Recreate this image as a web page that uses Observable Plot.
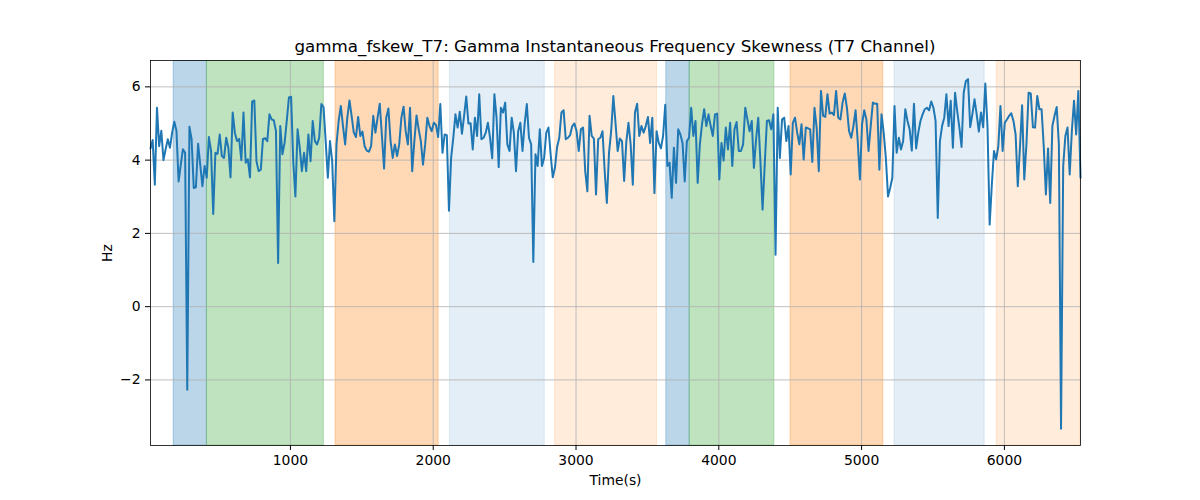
<!DOCTYPE html>
<html>
<head>
<meta charset="utf-8">
<script src="https://cdn.jsdelivr.net/npm/d3@7"></script>
<script src="https://cdn.jsdelivr.net/npm/@observablehq/plot@0.6"></script>
<style>
  body { margin: 0; background: #fff; font-family: "DejaVu Sans", sans-serif; }
  #wrap { width: 1200px; height: 500px; position: relative; }
  #title { position: absolute; left: 150px; width: 930px; top: 36px; text-align: center;
           font-size: 16.7px; line-height: 20px; color: #000; }
  #chart { position: absolute; left: 0; top: 60px; }
</style>
</head>
<body>
<div id="wrap">
  <div id="title">gamma_fskew_T7: Gamma Instantaneous Frequency Skewness (T7 Channel)</div>
  <div id="chart"></div>
</div>
<script>
const titleText = "gamma_fskew_T7: Gamma Instantaneous Frequency Skewness (T7 Channel)";
const xLabel = "Time(s)";
const yLabel = "Hz";
const xTicks = [1000, 2000, 3000, 4000, 5000, 6000];
const yTicks = [-2, 0, 2, 4, 6];
const tStart = 20;
const tEnd = 6533;
const yDomain = [-3.79, 6.72];

const values = [
  4.32,4.55,3.33,5.43,4.38,4.8,4.0,4.3,4.57,4.34,
  4.75,5.05,4.8,3.42,3.88,4.3,4.2,-2.27,4.91,4.57,
  3.24,3.26,4.45,3.88,3.29,3.84,3.52,4.63,4.25,2.53,
  4.2,4.17,4.7,4.11,4.06,4.61,4.34,3.53,5.3,4.75,
  4.52,4.58,4.0,5.3,3.93,4.02,3.53,5.6,5.63,3.97,
  3.7,3.74,4.58,4.6,4.52,5.25,
  5.11,5.09,4.8,1.19,4.93,4.16,4.47,5.07,5.71,5.73,
  3.97,3.01,4.84,4.34,3.7,4.2,3.7,4.7,3.97,5.07,
  4.52,4.43,4.61,5.53,5.45,4.52,3.52,4.52,3.97,2.33,
  4.43,5.07,5.48,4.93,4.43,5.16,5.63,5.2,4.75,4.63,
  5.18,4.66,4.78,4.38,4.26,4.23,4.38,
  5.21,4.75,5.16,5.54,4.66,3.77,5.16,5.41,4.52,4.06,
  4.43,4.11,4.43,5.16,5.46,4.79,4.43,5.43,3.7,4.52,
  5.22,4.84,4.52,3.88,4.43,5.16,4.93,4.79,5.02,4.96,
  4.63,5.53,4.2,4.7,4.68,2.62,4.06,4.61,5.25,4.89,
  5.32,4.72,5.21,5.74,5.0,5.01,4.29,5.16,4.66,5.8,
  4.57,4.61,4.75,5.02,4.61,4.05,5.8,5.16,3.81,5.43,
  5.3,5.57,4.43,4.25,5.16,4.75,3.7,4.79,5.02,4.25,
  5.0,5.53,4.61,4.43,1.22,4.16,3.84,4.84,3.84,4.06,
  4.75,4.89,4.16,3.53,3.79,4.36,4.61,5.3,5.36,4.57,
  4.61,4.68,4.93,5.0,4.79,4.25,4.84,4.89,3.7,3.15,
  5.21,4.66,4.59,3.06,4.57,4.61,4.79,3.7,2.83,4.2,
  4.79,5.75,5.02,4.25,4.59,4.52,3.43,4.5,5.02,
  4.43,3.33,5.3,5.54,4.66,4.93,4.75,4.93,5.18,4.47,
  5.16,3.1,4.79,4.47,4.32,4.66,5.51,3.84,3.93,2.97,
  4.34,3.38,4.84,4.7,4.47,3.42,4.52,4.61,5.43,4.66,
  5.07,3.38,4.43,4.98,5.39,4.93,5.25,4.93,4.66,5.25,
  5.27,3.47,4.47,3.99,4.89,4.29,5.02,3.84,4.84,5.04,
  4.25,4.25,4.43,5.43,5.11,4.79,
  5.07,3.79,4.57,5.16,3.97,2.65,3.88,5.07,5.09,4.84,
  5.25,1.42,5.43,4.06,5.11,5.16,4.52,4.93,3.61,5.02,
  5.16,4.75,4.43,4.98,4.02,4.89,4.87,4.84,3.95,5.43,
  4.89,3.7,5.89,5.21,5.18,5.8,5.27,5.3,5.23,5.89,
  5.16,5.11,5.57,5.82,5.43,4.79,4.61,4.93,5.36,4.52,
  3.47,4.98,5.36,5.11,4.25,
  4.93,5.57,5.54,5.54,3.74,5.25,4.75,4.06,3.01,3.24,
  3.52,5.48,4.2,4.61,4.29,4.52,5.39,5.07,4.84,4.26,
  5.54,4.32,4.75,5.07,5.25,5.39,5.43,5.36,5.6,5.43,
  5.07,2.42,4.52,4.93,5.16,5.8,4.93,5.62,4.34,5.84,
  5.34,4.89,4.36,5.84,6.16,6.21,4.9,5.25,5.66,5.25,
  4.78,5.3,4.9,6.09,
  4.9,2.24,3.33,4.25,4.02,4.38,
  5.48,4.25,5.02,5.11,5.21,5.28,5.07,4.7,3.29,4.34,
  5.5,3.47,4.43,5.84,5.82,4.9,4.89,5.75,5.39,5.39,
  4.38,3.06,4.32,2.83,4.93,5.21,5.45,4.43,-3.33,3.84,
  4.66,4.89,3.61,4.79,5.62,4.7,5.89,3.52
];

const spanStart = [182, 415, 1316, 2117, 2854, 3632, 3796, 4502, 5231, 5946];
const spanEnd   = [415, 1234, 2038, 2781, 3567, 3796, 4389, 5152, 5862, 6533];
const spanColor = ["#1f77b4", "#2ca02c", "#ff7f0e", "#1f77b4", "#ff7f0e",
                   "#1f77b4", "#2ca02c", "#ff7f0e", "#1f77b4", "#ff7f0e"];
const spanAlpha = [0.3, 0.3, 0.3, 0.12, 0.15, 0.3, 0.3, 0.3, 0.12, 0.15];

const stepT = (tEnd - tStart) / (values.length - 1);
const series = values.map((v, i) => ({t: tStart + i * stepT, v}));
const spans = spanStart.map((s, i) => ({x1: s, x2: spanEnd[i], c: spanColor[i], a: spanAlpha[i]}));

const fmt = d => d < 0 ? "\u2212" + Math.abs(d) : String(d);

const chart = Plot.plot({
  width: 1200,
  height: 440,
  marginLeft: 150,
  marginRight: 120,
  marginTop: 0,
  marginBottom: 55,
  style: {fontFamily: "DejaVu Sans, sans-serif", fontSize: "13.9px", color: "#000", background: "#fff"},
  x: {domain: [tStart, tEnd]},
  y: {domain: yDomain},
  color: {type: "identity"},
  opacity: {type: "identity"},
  marks: [
    Plot.rect(spans, {x1: "x1", x2: "x2", fill: "c", fillOpacity: "a",
      stroke: "c", strokeOpacity: "a", strokeWidth: 1}),
    Plot.gridX(xTicks, {stroke: "#b0b0b0", strokeOpacity: 1, strokeWidth: 0.8}),
    Plot.gridY(yTicks, {stroke: "#b0b0b0", strokeOpacity: 1, strokeWidth: 0.8}),
    Plot.line(series, {x: "t", y: "v", stroke: "#1f77b4", strokeWidth: 2}),
    Plot.frame({stroke: "#000", strokeWidth: 0.8}),
    Plot.axisX(xTicks, {tickSize: 5, tickPadding: 5, tickFormat: fmt, label: xLabel,
      labelAnchor: "center", labelArrow: "none", labelOffset: 39}),
    Plot.axisY(yTicks, {tickSize: 5, tickPadding: 5, tickFormat: fmt, label: yLabel,
      labelAnchor: "center", labelArrow: "none", labelOffset: 48})
  ]
});
document.getElementById("chart").appendChild(chart);
</script>
</body>
</html>
